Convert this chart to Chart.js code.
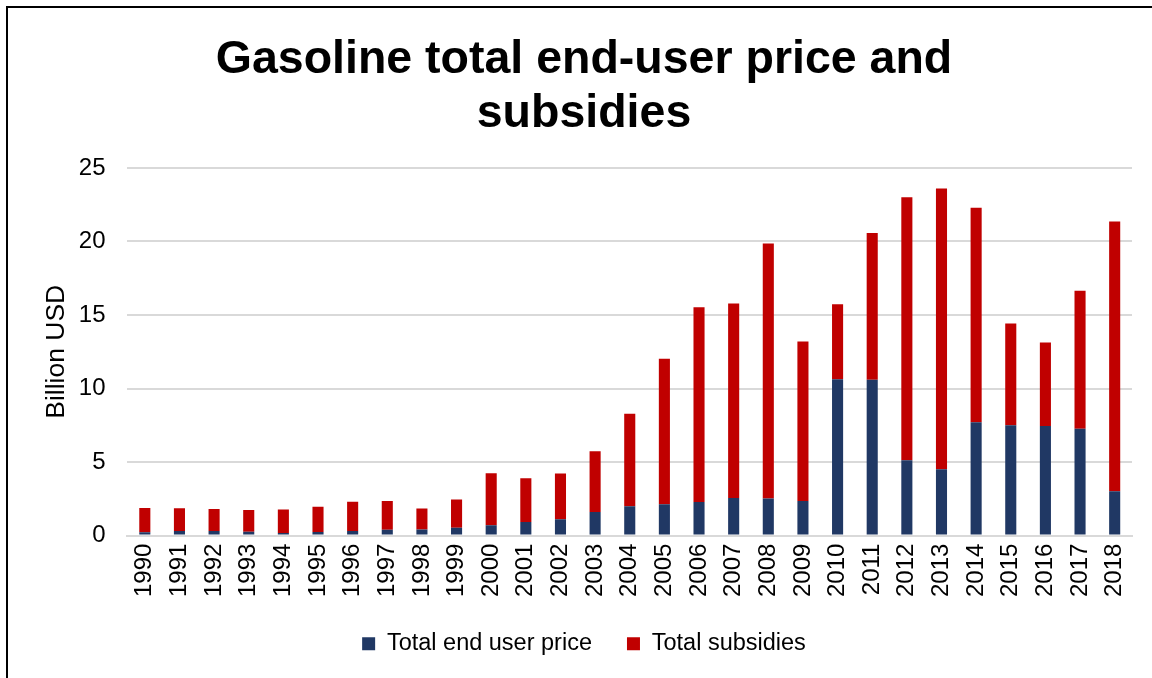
<!DOCTYPE html>
<html>
<head>
<meta charset="utf-8">
<script src="https://cdn.jsdelivr.net/npm/chart.js@4/dist/chart.umd.min.js"></script>
<style>
  html, body { margin: 0; padding: 0; background: #fff; }
  #wrap { position: relative; width: 1152px; height: 678px; overflow: hidden; }
  #chart { position: absolute; left: 0; top: 0; }
  /* chart frame: only the top and left edges fall inside the page */
  #frame {
    position: absolute; left: 6px; top: 6px; right: -10px; bottom: -10px;
    border-left: 2px solid #000; border-top: 2px solid #000; pointer-events: none;
  }
</style>
</head>
<body>
<div id="wrap">
  <canvas id="chart" width="1152" height="678"></canvas>
  <div id="frame"></div>
</div>
<script>
// Years on the category axis
const years = ['1990','1991','1992','1993','1994','1995','1996','1997','1998','1999',
               '2000','2001','2002','2003','2004','2005','2006','2007','2008','2009',
               '2010','2011','2012','2013','2014','2015','2016','2017','2018'];

// Billion USD, lower stack
const endUserPrice = [0.22, 0.32, 0.32, 0.27, 0.18, 0.25, 0.32, 0.39, 0.41, 0.54,
                      0.70, 0.93, 1.11, 1.61, 2.00, 2.13, 2.29, 2.56, 2.52, 2.36,
                      10.63, 10.59, 5.12, 4.51, 7.71, 7.50, 7.46, 7.26, 3.01];

// Billion USD, upper stack
const subsidies = [1.66, 1.54, 1.49, 1.47, 1.59, 1.72, 1.99, 1.97, 1.43, 1.91,
                   3.54, 2.97, 3.11, 4.12, 6.28, 9.89, 13.24, 13.22, 17.34, 10.84,
                   5.10, 9.99, 17.89, 19.09, 14.58, 6.92, 5.67, 9.39, 18.35];

const yTicks = [0, 5, 10, 15, 20, 25];

const FONT = "'Liberation Sans', Arial, sans-serif";

new Chart(document.getElementById('chart'), {
  type: 'bar',
  data: {
    labels: years,
    datasets: [
      { label: 'Total end user price', data: endUserPrice, backgroundColor: '#203864',
        categoryPercentage: 1, barPercentage: 0.32 },
      { label: 'Total subsidies', data: subsidies, backgroundColor: '#C00000',
        categoryPercentage: 1, barPercentage: 0.32 }
    ]
  },
  options: {
    responsive: false,
    animation: false,
    layout: { padding: { left: 36, right: 20, top: 0, bottom: 12.5 } },
    plugins: {
      title: {
        display: true,
        text: ['Gasoline total end-user price and', 'subsidies'],
        color: '#000',
        font: { family: FONT, size: 46.5, weight: 'bold', lineHeight: 1.16 },
        padding: { top: 33, bottom: 27 }
      },
      legend: {
        position: 'bottom',
        labels: {
          color: '#000',
          font: { family: FONT, size: 23.5, lineHeight: 1 },
          boxWidth: 13, boxHeight: 13,
          padding: 35
        }
      },
      tooltip: { enabled: false }
    },
    scales: {
      x: {
        stacked: true,
        grid: { display: false, drawTicks: false },
        border: { color: '#d9d9d9', width: 2 },
        ticks: {
          color: '#000', font: { family: FONT, size: 24 },
          minRotation: 90, maxRotation: 90, padding: 8, autoSkip: false
        },
        // tick padding is reserved on both sides of the labels; drop the outer one
        afterFit: (scale) => { scale.height -= 8; }
      },
      y: {
        stacked: true,
        min: yTicks[0], max: yTicks[yTicks.length - 1],
        afterBuildTicks: (axis) => { axis.ticks = yTicks.map(v => ({ value: v })); },
        grid: { color: '#d9d9d9', lineWidth: 2, drawTicks: false },
        border: { display: false },
        ticks: { color: '#000', font: { family: FONT, size: 24 }, padding: 22 },
        title: {
          display: true, text: 'Billion USD', color: '#000',
          font: { family: FONT, size: 26.5 }, padding: { top: 5, bottom: 6 }
        },
        afterFit: (scale) => { scale.width -= 22; }
      }
    }
  }
});
</script>
</body>
</html>
